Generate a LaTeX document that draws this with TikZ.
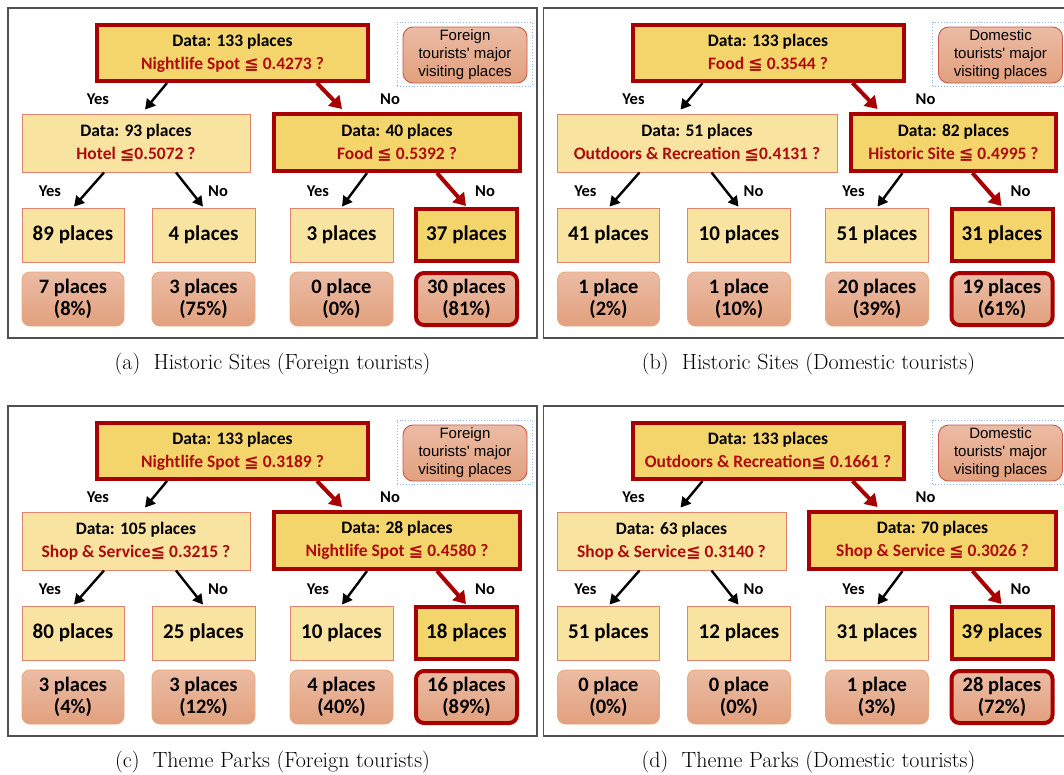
\documentclass[tikz,border=0pt]{standalone}
\usepackage{fontspec}
\usetikzlibrary{arrows.meta,calc}
\newfontfamily\calf{Carlito}
\newfontfamily\symf{DejaVu Sans}
\newfontfamily\arialf{Liberation Sans}
\definecolor{gold}{HTML}{F4D56C}
\definecolor{lgold}{HTML}{F8E4A0}
\definecolor{thinred}{HTML}{E08470}
\definecolor{dred}{HTML}{A80000}
\definecolor{tred}{HTML}{AE0C0C}
\definecolor{bottop}{HTML}{EBBCA4}
\definecolor{botbot}{HTML}{E2A07E}
\definecolor{botline}{HTML}{EBA878}
\definecolor{legline}{HTML}{C8564A}
\definecolor{lblue}{HTML}{8EB4E3}
\definecolor{framec}{HTML}{505050}
\newcommand\myle{{\symf ≦}}
\tikzset{
  thinbox/.style={draw=thinred, line width=0.9pt, fill=lgold, inner sep=0pt, align=center},
  thickbox/.style={draw=dred, line width=4pt, fill=gold, inner sep=0pt, align=center},
  datatext/.style={font=\calf\bfseries\fontsize{17.5}{23}\selectfont},
  leaftext/.style={font=\calf\bfseries\fontsize{21}{25}\selectfont},
  botbox/.style={draw=botline, line width=0.9pt, top color=bottop, bottom color=botbot, rounded corners=8pt, inner sep=0pt, align=center, font=\calf\bfseries\fontsize{20.5}{22}\selectfont},
  botthick/.style={botbox, draw=dred, line width=4pt},
  legend/.style={draw=legline, line width=0.9pt, top color=bottop, bottom color=botbot, rounded corners=10pt, inner sep=0pt, align=center, font=\arialf\fontsize{15}{18}\selectfont, minimum width=124, minimum height=56},
  dotbox/.style={draw=lblue, dotted, line width=0.9pt, inner sep=0pt, minimum width=135, minimum height=64},
  yn/.style={font=\calf\bfseries\fontsize{16.5}{18}\selectfont, inner sep=0pt},
  blk/.style={line width=2.4pt, -{Triangle[length=10pt,width=11pt]}},
  redarr/.style={draw=dred, line width=4pt, -{Triangle[length=12pt,width=15pt]}},
  frame/.style={draw=framec, line width=1.3pt},
  captext/.style={font=\fontsize{22}{25}\selectfont, inner sep=0pt}
}
\newcommand\drawtree{%
  \draw[frame] (8,8) rectangle (537,338);
  \node[thickbox, datatext, minimum width=271, minimum height=56] (R) at (232.5,53) {Data: 133 places\\\textcolor{tred}{\RC}};
  \node[dotbox] (LGB) at (464.5,54) {};
  \node[legend] (LG) at (465,55) {\LG\\tourists' major\\visiting places};
  \node[thinbox, datatext, minimum width=\MAw, minimum height=58] (M1) at (\MAx,143) {\MAd\\\textcolor{tred}{\MAc}};
  \node[thickbox, datatext, minimum width=\MBw, minimum height=57] (M2) at (\MBx,142.5) {\MBd\\\textcolor{tred}{\MBc}};
  \node[thinbox, leaftext, minimum width=102, minimum height=54] (L1) at (73,235) {\LA};
  \node[thinbox, leaftext, minimum width=103, minimum height=54] (L2) at (203.5,235) {\LB};
  \node[thinbox, leaftext, minimum width=103, minimum height=54] (L3) at (341.5,235) {\LC};
  \node[thickbox, leaftext, minimum width=101, minimum height=52] (L4) at (466.5,235) {\LD};
  \node[botbox, minimum width=102, minimum height=54] (B1) at (73,299) {\BA};
  \node[botbox, minimum width=103, minimum height=54] (B2) at (203.5,299) {\BB};
  \node[botbox, minimum width=103, minimum height=54] (B3) at (341.5,299) {\BC};
  \node[botthick, minimum width=101, minimum height=52] (B4) at (466.5,299) {\BD};
  \draw[blk] (167,0 |- R.south) -- ($(145,0 |- M1.north)+(0,-4)$);
  \draw[redarr] (317,0 |- R.south) -- ($(342,0 |- M2.north)+(0,-3)$);
  \draw[blk] (104,0 |- M1.south) -- ($(74,0 |- L1.north)+(0,-1)$);
  \draw[blk] (176,0 |- M1.south) -- ($(203,0 |- L2.north)+(0,-1)$);
  \draw[blk] (367,0 |- M2.south) -- ($(342,0 |- L3.north)+(0,-1)$);
  \draw[redarr] (437,0 |- M2.south) -- ($(466,0 |- L4.north)+(0,-1)$);
  \node[yn] (Y0) at (98,99) {Yes};
  \node[yn] (N0) at (390,99) {No};
  \node[yn] (Y1) at (50,191) {Yes};
  \node[yn] (N1) at (218,191) {No};
  \node[yn] (Y2) at (318,191) {Yes};
  \node[yn] (N2) at (485,191) {No};
}
\begin{document}
\begin{tikzpicture}[x=1pt,y=-1pt]
\useasboundingbox (0,0) rectangle (1064,774);
\clip (0,0) rectangle (1064,774);
\fill[white] (0,0) rectangle (1064,774);
% (a)
\begin{scope}[name prefix=a-]
  \def\RC{Nightlife Spot \myle{} 0.4273 ?}
  \def\LG{Foreign}
  \def\MAd{Data: 93 places}\def\MAc{Hotel \myle0.5072 ?}\def\MAx{136}\def\MAw{228}
  \def\MBd{Data: 40 places}\def\MBc{Food \myle{} 0.5392 ?}\def\MBx{397}\def\MBw{246}
  \def\LA{89 places}\def\LB{4 places}\def\LC{3 places}\def\LD{37 places}
  \def\BA{7 places\\(8\%)}\def\BB{3 places\\(75\%)}\def\BC{0 place\\(0\%)}\def\BD{30 places\\(81\%)}
  \drawtree
\end{scope}
% (b)
\begin{scope}[shift={(535.5,0)}, name prefix=b-]
  \def\RC{Food \myle{} 0.3544 ?}
  \def\LG{Domestic}
  \def\MAd{Data: 51 places}\def\MAc{Outdoors \& Recreation \myle0.4131 ?}\def\MAx{161.5}\def\MAw{280}
  \def\MBd{Data: 82 places}\def\MBc{Historic Site \myle{} 0.4995 ?}\def\MBx{418}\def\MBw{205}
  \def\LA{41 places}\def\LB{10 places}\def\LC{51 places}\def\LD{31 places}
  \def\BA{1 place\\(2\%)}\def\BB{1 place\\(10\%)}\def\BC{20 places\\(39\%)}\def\BD{19 places\\(61\%)}
  \drawtree
\end{scope}
% (c)
\begin{scope}[shift={(0,398)}, name prefix=c-]
  \def\RC{Nightlife Spot \myle{} 0.3189 ?}
  \def\LG{Foreign}
  \def\MAd{Data: 105 places}\def\MAc{Shop \& Service\myle{} 0.3215 ?}\def\MAx{136}\def\MAw{228}
  \def\MBd{Data: 28 places}\def\MBc{Nightlife Spot \myle{} 0.4580 ?}\def\MBx{397}\def\MBw{246}
  \def\LA{80 places}\def\LB{25 places}\def\LC{10 places}\def\LD{18 places}
  \def\BA{3 places\\(4\%)}\def\BB{3 places\\(12\%)}\def\BC{4 places\\(40\%)}\def\BD{16 places\\(89\%)}
  \drawtree
\end{scope}
% (d)
\begin{scope}[shift={(535.5,398)}, name prefix=d-]
  \def\RC{Outdoors \& Recreation\myle{} 0.1661 ?}
  \def\LG{Domestic}
  \def\MAd{Data: 63 places}\def\MAc{Shop \& Service\myle{} 0.3140 ?}\def\MAx{136}\def\MAw{229}
  \def\MBd{Data: 70 places}\def\MBc{Shop \& Service \myle{} 0.3026 ?}\def\MBx{397}\def\MBw{247}
  \def\LA{51 places}\def\LB{12 places}\def\LC{31 places}\def\LD{39 places}
  \def\BA{0 place\\(0\%)}\def\BB{0 place\\(0\%)}\def\BC{1 place\\(3\%)}\def\BD{28 places\\(72\%)}
  \drawtree
\end{scope}
\node[captext] (capa) at (272.5,364) {(a)\hspace{0.6em}Historic Sites (Foreign tourists)};
\node[captext] (capb) at (808.5,364) {(b)\hspace{0.6em}Historic Sites (Domestic tourists)};
\node[captext] (capc) at (272.5,762) {(c)\hspace{0.6em}Theme Parks (Foreign tourists)};
\node[captext] (capd) at (808.5,762) {(d)\hspace{0.6em}Theme Parks (Domestic tourists)};
\end{tikzpicture}
\end{document}
